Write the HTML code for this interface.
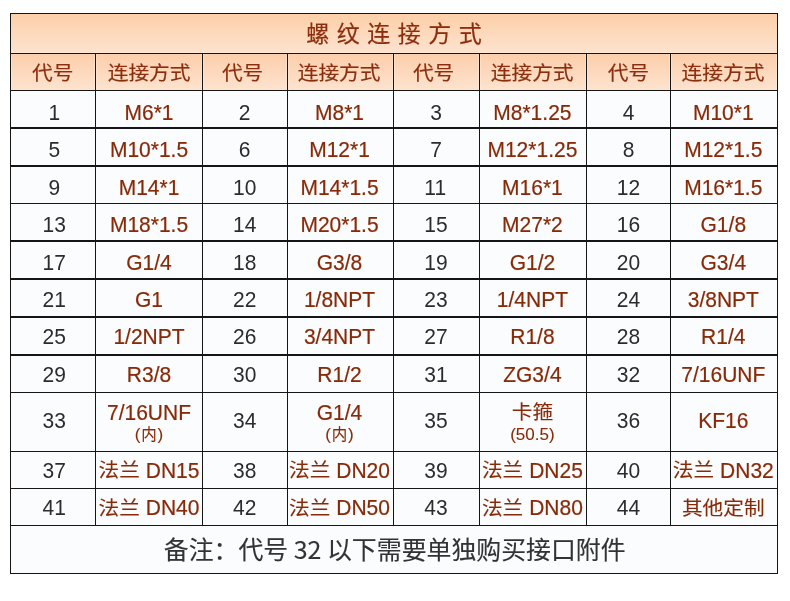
<!DOCTYPE html>
<html><head><meta charset="utf-8"><style>
html,body{margin:0;padding:0;width:790px;height:601px;overflow:hidden;background:#fff}
svg{display:block}
</style></head>
<body><svg width="790" height="601" viewBox="0 0 790 601">
<defs>
<linearGradient id="gt" x1="0" y1="0" x2="0" y2="1"><stop offset="0" stop-color="#fccfa8"/><stop offset="1" stop-color="#fde3cf"/></linearGradient>
<linearGradient id="gh" x1="0" y1="0" x2="0" y2="1"><stop offset="0" stop-color="#fcceab"/><stop offset="1" stop-color="#fde3cf"/></linearGradient>
</defs>
<rect x="10" y="14" width="767" height="39" fill="url(#gt)"/>
<rect x="10" y="54" width="767" height="36" fill="url(#gh)"/>
<rect x="10" y="91" width="767" height="482" fill="#fbfcfe"/>
<g fill="#fff3ea" fill-opacity="0.35" shape-rendering="crispEdges"><rect x="11" y="52" width="766" height="1"/><rect x="94" y="54" width="1" height="36"/><rect x="96" y="54" width="1" height="36"/><rect x="201" y="54" width="1" height="36"/><rect x="203" y="54" width="1" height="36"/><rect x="286" y="54" width="1" height="36"/><rect x="288" y="54" width="1" height="36"/><rect x="392" y="54" width="1" height="36"/><rect x="394" y="54" width="1" height="36"/><rect x="478" y="54" width="1" height="36"/><rect x="480" y="54" width="1" height="36"/><rect x="585" y="54" width="1" height="36"/><rect x="587" y="54" width="1" height="36"/><rect x="669" y="54" width="1" height="36"/><rect x="671" y="54" width="1" height="36"/><rect x="11" y="54" width="1" height="36"/><rect x="776" y="54" width="1" height="36"/></g>
<g fill="#151515" shape-rendering="crispEdges"><rect x="10" y="13" width="768" height="1"/><rect x="10" y="53" width="768" height="1"/><rect x="10" y="90" width="768" height="1"/><rect x="10" y="127" width="768" height="2"/><rect x="10" y="165" width="768" height="2"/><rect x="10" y="203" width="768" height="1"/><rect x="10" y="240" width="768" height="2"/><rect x="10" y="278" width="768" height="2"/><rect x="10" y="316" width="768" height="2"/><rect x="10" y="354" width="768" height="2"/><rect x="10" y="392" width="768" height="1"/><rect x="10" y="451" width="768" height="1"/><rect x="10" y="488" width="768" height="1"/><rect x="10" y="525" width="768" height="1"/><rect x="10" y="573" width="768" height="1"/><rect x="10" y="13" width="1" height="561"/><rect x="95" y="53" width="1" height="473"/><rect x="202" y="53" width="1" height="473"/><rect x="287" y="53" width="1" height="473"/><rect x="393" y="53" width="1" height="473"/><rect x="479" y="53" width="1" height="473"/><rect x="586" y="53" width="1" height="473"/><rect x="670" y="53" width="1" height="473"/><rect x="777" y="13" width="1" height="561"/></g>
<text x="397.75" y="42" text-anchor="middle" font-family="'Liberation Sans','Noto Sans CJK SC',sans-serif" font-size="23" letter-spacing="7.5" fill="#8c2e0e" stroke="#8c2e0e" stroke-width="0.2">螺纹连接方式</text>
<text transform="translate(31.95,79.7) scale(1,0.935)" font-family="'Liberation Sans','Noto Sans CJK SC',sans-serif" font-size="20.7" fill="#8c2e0e" stroke="#8c2e0e" stroke-width="0.2">代号</text>
<text transform="translate(107.75,79.7) scale(1,0.935)" font-family="'Liberation Sans','Noto Sans CJK SC',sans-serif" font-size="20.7" fill="#8c2e0e" stroke="#8c2e0e" stroke-width="0.2">连接方式</text>
<text transform="translate(221.9,79.7) scale(1,0.935)" font-family="'Liberation Sans','Noto Sans CJK SC',sans-serif" font-size="20.7" fill="#8c2e0e" stroke="#8c2e0e" stroke-width="0.2">代号</text>
<text transform="translate(297.7,79.7) scale(1,0.935)" font-family="'Liberation Sans','Noto Sans CJK SC',sans-serif" font-size="20.7" fill="#8c2e0e" stroke="#8c2e0e" stroke-width="0.2">连接方式</text>
<text transform="translate(412.9,79.7) scale(1,0.935)" font-family="'Liberation Sans','Noto Sans CJK SC',sans-serif" font-size="20.7" fill="#8c2e0e" stroke="#8c2e0e" stroke-width="0.2">代号</text>
<text transform="translate(490.8,79.7) scale(1,0.935)" font-family="'Liberation Sans','Noto Sans CJK SC',sans-serif" font-size="20.7" fill="#8c2e0e" stroke="#8c2e0e" stroke-width="0.2">连接方式</text>
<text transform="translate(607.8,79.7) scale(1,0.935)" font-family="'Liberation Sans','Noto Sans CJK SC',sans-serif" font-size="20.7" fill="#8c2e0e" stroke="#8c2e0e" stroke-width="0.2">代号</text>
<text transform="translate(681.6,79.7) scale(1,0.935)" font-family="'Liberation Sans','Noto Sans CJK SC',sans-serif" font-size="20.7" fill="#8c2e0e" stroke="#8c2e0e" stroke-width="0.2">连接方式</text>
<text transform="translate(48.46,119.5) scale(1,1.055)" font-family="'Liberation Sans',sans-serif" font-size="21" fill="#2c2c2c" xml:space="preserve">1</text>
<text transform="translate(124.49,119.5) scale(1,1.055)" font-family="'Liberation Sans',sans-serif" font-size="21" fill="#882a07" stroke="#882a07" stroke-width="0.2" xml:space="preserve">M6*1</text>
<text transform="translate(238.86,119.5) scale(1,1.055)" font-family="'Liberation Sans',sans-serif" font-size="21" fill="#2c2c2c" xml:space="preserve">2</text>
<text transform="translate(314.99,119.5) scale(1,1.055)" font-family="'Liberation Sans',sans-serif" font-size="21" fill="#882a07" stroke="#882a07" stroke-width="0.2" xml:space="preserve">M8*1</text>
<text transform="translate(430.16,119.5) scale(1,1.055)" font-family="'Liberation Sans',sans-serif" font-size="21" fill="#2c2c2c" xml:space="preserve">3</text>
<text transform="translate(493.29,119.5) scale(1,1.055)" font-family="'Liberation Sans',sans-serif" font-size="21" fill="#882a07" stroke="#882a07" stroke-width="0.2" xml:space="preserve">M8*1.25</text>
<text transform="translate(622.66,119.5) scale(1,1.055)" font-family="'Liberation Sans',sans-serif" font-size="21" fill="#2c2c2c" xml:space="preserve">4</text>
<text transform="translate(692.95,119.5) scale(1,1.055)" font-family="'Liberation Sans',sans-serif" font-size="21" fill="#882a07" stroke="#882a07" stroke-width="0.2" xml:space="preserve">M10*1</text>
<text transform="translate(48.46,157) scale(1,1.055)" font-family="'Liberation Sans',sans-serif" font-size="21" fill="#2c2c2c" xml:space="preserve">5</text>
<text transform="translate(109.89,157) scale(1,1.055)" font-family="'Liberation Sans',sans-serif" font-size="21" fill="#882a07" stroke="#882a07" stroke-width="0.2" xml:space="preserve">M10*1.5</text>
<text transform="translate(238.86,157) scale(1,1.055)" font-family="'Liberation Sans',sans-serif" font-size="21" fill="#2c2c2c" xml:space="preserve">6</text>
<text transform="translate(309.15,157) scale(1,1.055)" font-family="'Liberation Sans',sans-serif" font-size="21" fill="#882a07" stroke="#882a07" stroke-width="0.2" xml:space="preserve">M12*1</text>
<text transform="translate(430.16,157) scale(1,1.055)" font-family="'Liberation Sans',sans-serif" font-size="21" fill="#2c2c2c" xml:space="preserve">7</text>
<text transform="translate(487.45,157) scale(1,1.055)" font-family="'Liberation Sans',sans-serif" font-size="21" fill="#882a07" stroke="#882a07" stroke-width="0.2" xml:space="preserve">M12*1.25</text>
<text transform="translate(622.66,157) scale(1,1.055)" font-family="'Liberation Sans',sans-serif" font-size="21" fill="#2c2c2c" xml:space="preserve">8</text>
<text transform="translate(684.19,157) scale(1,1.055)" font-family="'Liberation Sans',sans-serif" font-size="21" fill="#882a07" stroke="#882a07" stroke-width="0.2" xml:space="preserve">M12*1.5</text>
<text transform="translate(48.46,194.5) scale(1,1.055)" font-family="'Liberation Sans',sans-serif" font-size="21" fill="#2c2c2c" xml:space="preserve">9</text>
<text transform="translate(118.65,194.5) scale(1,1.055)" font-family="'Liberation Sans',sans-serif" font-size="21" fill="#882a07" stroke="#882a07" stroke-width="0.2" xml:space="preserve">M14*1</text>
<text transform="translate(233.02,194.5) scale(1,1.055)" font-family="'Liberation Sans',sans-serif" font-size="21" fill="#2c2c2c" xml:space="preserve">10</text>
<text transform="translate(300.39,194.5) scale(1,1.055)" font-family="'Liberation Sans',sans-serif" font-size="21" fill="#882a07" stroke="#882a07" stroke-width="0.2" xml:space="preserve">M14*1.5</text>
<text transform="translate(424.32,194.5) scale(1,1.055)" font-family="'Liberation Sans',sans-serif" font-size="21" fill="#2c2c2c" xml:space="preserve">11</text>
<text transform="translate(502.05,194.5) scale(1,1.055)" font-family="'Liberation Sans',sans-serif" font-size="21" fill="#882a07" stroke="#882a07" stroke-width="0.2" xml:space="preserve">M16*1</text>
<text transform="translate(616.82,194.5) scale(1,1.055)" font-family="'Liberation Sans',sans-serif" font-size="21" fill="#2c2c2c" xml:space="preserve">12</text>
<text transform="translate(684.19,194.5) scale(1,1.055)" font-family="'Liberation Sans',sans-serif" font-size="21" fill="#882a07" stroke="#882a07" stroke-width="0.2" xml:space="preserve">M16*1.5</text>
<text transform="translate(42.62,232) scale(1,1.055)" font-family="'Liberation Sans',sans-serif" font-size="21" fill="#2c2c2c" xml:space="preserve">13</text>
<text transform="translate(109.89,232) scale(1,1.055)" font-family="'Liberation Sans',sans-serif" font-size="21" fill="#882a07" stroke="#882a07" stroke-width="0.2" xml:space="preserve">M18*1.5</text>
<text transform="translate(233.02,232) scale(1,1.055)" font-family="'Liberation Sans',sans-serif" font-size="21" fill="#2c2c2c" xml:space="preserve">14</text>
<text transform="translate(300.39,232) scale(1,1.055)" font-family="'Liberation Sans',sans-serif" font-size="21" fill="#882a07" stroke="#882a07" stroke-width="0.2" xml:space="preserve">M20*1.5</text>
<text transform="translate(424.32,232) scale(1,1.055)" font-family="'Liberation Sans',sans-serif" font-size="21" fill="#2c2c2c" xml:space="preserve">15</text>
<text transform="translate(502.05,232) scale(1,1.055)" font-family="'Liberation Sans',sans-serif" font-size="21" fill="#882a07" stroke="#882a07" stroke-width="0.2" xml:space="preserve">M27*2</text>
<text transform="translate(616.82,232) scale(1,1.055)" font-family="'Liberation Sans',sans-serif" font-size="21" fill="#2c2c2c" xml:space="preserve">16</text>
<text transform="translate(700.54,232) scale(1,1.055)" font-family="'Liberation Sans',sans-serif" font-size="21" fill="#882a07" stroke="#882a07" stroke-width="0.2" xml:space="preserve">G1/8</text>
<text transform="translate(42.62,269.5) scale(1,1.055)" font-family="'Liberation Sans',sans-serif" font-size="21" fill="#2c2c2c" xml:space="preserve">17</text>
<text transform="translate(126.24,269.5) scale(1,1.055)" font-family="'Liberation Sans',sans-serif" font-size="21" fill="#882a07" stroke="#882a07" stroke-width="0.2" xml:space="preserve">G1/4</text>
<text transform="translate(233.02,269.5) scale(1,1.055)" font-family="'Liberation Sans',sans-serif" font-size="21" fill="#2c2c2c" xml:space="preserve">18</text>
<text transform="translate(316.74,269.5) scale(1,1.055)" font-family="'Liberation Sans',sans-serif" font-size="21" fill="#882a07" stroke="#882a07" stroke-width="0.2" xml:space="preserve">G3/8</text>
<text transform="translate(424.32,269.5) scale(1,1.055)" font-family="'Liberation Sans',sans-serif" font-size="21" fill="#2c2c2c" xml:space="preserve">19</text>
<text transform="translate(509.64,269.5) scale(1,1.055)" font-family="'Liberation Sans',sans-serif" font-size="21" fill="#882a07" stroke="#882a07" stroke-width="0.2" xml:space="preserve">G1/2</text>
<text transform="translate(616.82,269.5) scale(1,1.055)" font-family="'Liberation Sans',sans-serif" font-size="21" fill="#2c2c2c" xml:space="preserve">20</text>
<text transform="translate(700.54,269.5) scale(1,1.055)" font-family="'Liberation Sans',sans-serif" font-size="21" fill="#882a07" stroke="#882a07" stroke-width="0.2" xml:space="preserve">G3/4</text>
<text transform="translate(42.62,307.2) scale(1,1.055)" font-family="'Liberation Sans',sans-serif" font-size="21" fill="#2c2c2c" xml:space="preserve">21</text>
<text transform="translate(134.99,307.2) scale(1,1.055)" font-family="'Liberation Sans',sans-serif" font-size="21" fill="#882a07" stroke="#882a07" stroke-width="0.2" xml:space="preserve">G1</text>
<text transform="translate(233.02,307.2) scale(1,1.055)" font-family="'Liberation Sans',sans-serif" font-size="21" fill="#2c2c2c" xml:space="preserve">22</text>
<text transform="translate(303.9,307.2) scale(1,1.055)" font-family="'Liberation Sans',sans-serif" font-size="21" fill="#882a07" stroke="#882a07" stroke-width="0.2" xml:space="preserve">1/8NPT</text>
<text transform="translate(424.32,307.2) scale(1,1.055)" font-family="'Liberation Sans',sans-serif" font-size="21" fill="#2c2c2c" xml:space="preserve">23</text>
<text transform="translate(496.8,307.2) scale(1,1.055)" font-family="'Liberation Sans',sans-serif" font-size="21" fill="#882a07" stroke="#882a07" stroke-width="0.2" xml:space="preserve">1/4NPT</text>
<text transform="translate(616.82,307.2) scale(1,1.055)" font-family="'Liberation Sans',sans-serif" font-size="21" fill="#2c2c2c" xml:space="preserve">24</text>
<text transform="translate(687.7,307.2) scale(1,1.055)" font-family="'Liberation Sans',sans-serif" font-size="21" fill="#882a07" stroke="#882a07" stroke-width="0.2" xml:space="preserve">3/8NPT</text>
<text transform="translate(42.62,344.2) scale(1,1.055)" font-family="'Liberation Sans',sans-serif" font-size="21" fill="#2c2c2c" xml:space="preserve">25</text>
<text transform="translate(113.4,344.2) scale(1,1.055)" font-family="'Liberation Sans',sans-serif" font-size="21" fill="#882a07" stroke="#882a07" stroke-width="0.2" xml:space="preserve">1/2NPT</text>
<text transform="translate(233.02,344.2) scale(1,1.055)" font-family="'Liberation Sans',sans-serif" font-size="21" fill="#2c2c2c" xml:space="preserve">26</text>
<text transform="translate(303.9,344.2) scale(1,1.055)" font-family="'Liberation Sans',sans-serif" font-size="21" fill="#882a07" stroke="#882a07" stroke-width="0.2" xml:space="preserve">3/4NPT</text>
<text transform="translate(424.32,344.2) scale(1,1.055)" font-family="'Liberation Sans',sans-serif" font-size="21" fill="#2c2c2c" xml:space="preserve">27</text>
<text transform="translate(510.22,344.2) scale(1,1.055)" font-family="'Liberation Sans',sans-serif" font-size="21" fill="#882a07" stroke="#882a07" stroke-width="0.2" xml:space="preserve">R1/8</text>
<text transform="translate(616.82,344.2) scale(1,1.055)" font-family="'Liberation Sans',sans-serif" font-size="21" fill="#2c2c2c" xml:space="preserve">28</text>
<text transform="translate(701.12,344.2) scale(1,1.055)" font-family="'Liberation Sans',sans-serif" font-size="21" fill="#882a07" stroke="#882a07" stroke-width="0.2" xml:space="preserve">R1/4</text>
<text transform="translate(42.62,382.3) scale(1,1.055)" font-family="'Liberation Sans',sans-serif" font-size="21" fill="#2c2c2c" xml:space="preserve">29</text>
<text transform="translate(126.82,382.3) scale(1,1.055)" font-family="'Liberation Sans',sans-serif" font-size="21" fill="#882a07" stroke="#882a07" stroke-width="0.2" xml:space="preserve">R3/8</text>
<text transform="translate(233.02,382.3) scale(1,1.055)" font-family="'Liberation Sans',sans-serif" font-size="21" fill="#2c2c2c" xml:space="preserve">30</text>
<text transform="translate(317.32,382.3) scale(1,1.055)" font-family="'Liberation Sans',sans-serif" font-size="21" fill="#882a07" stroke="#882a07" stroke-width="0.2" xml:space="preserve">R1/2</text>
<text transform="translate(424.32,382.3) scale(1,1.055)" font-family="'Liberation Sans',sans-serif" font-size="21" fill="#2c2c2c" xml:space="preserve">31</text>
<text transform="translate(503.22,382.3) scale(1,1.055)" font-family="'Liberation Sans',sans-serif" font-size="21" fill="#882a07" stroke="#882a07" stroke-width="0.2" xml:space="preserve">ZG3/4</text>
<text transform="translate(616.82,382.3) scale(1,1.055)" font-family="'Liberation Sans',sans-serif" font-size="21" fill="#2c2c2c" xml:space="preserve">32</text>
<text transform="translate(681.28,382.3) scale(1,1.055)" font-family="'Liberation Sans',sans-serif" font-size="21" fill="#882a07" stroke="#882a07" stroke-width="0.2" xml:space="preserve">7/16UNF</text>
<text transform="translate(42.62,428) scale(1,1.055)" font-family="'Liberation Sans',sans-serif" font-size="21" fill="#2c2c2c" xml:space="preserve">33</text>
<text transform="translate(106.98,419.6) scale(1,1.055)" font-family="'Liberation Sans',sans-serif" font-size="21" fill="#882a07" stroke="#882a07" stroke-width="0.2" xml:space="preserve">7/16UNF</text>
<text transform="translate(134.79,439.5) scale(1,1.0)" font-family="'Liberation Sans',sans-serif" font-size="17" fill="#882a07" stroke="#882a07" stroke-width="0.1" xml:space="preserve">(</text><text transform="translate(141.25,439.5) scale(1,1)" font-family="'Liberation Sans','Noto Sans CJK SC',sans-serif" font-size="15.5" fill="#882a07" stroke="#882a07" stroke-width="0.1">内</text><text transform="translate(157.55,439.5) scale(1,1.0)" font-family="'Liberation Sans',sans-serif" font-size="17" fill="#882a07" stroke="#882a07" stroke-width="0.1" xml:space="preserve">)</text>
<text transform="translate(233.02,428) scale(1,1.055)" font-family="'Liberation Sans',sans-serif" font-size="21" fill="#2c2c2c" xml:space="preserve">34</text>
<text transform="translate(316.74,419.6) scale(1,1.055)" font-family="'Liberation Sans',sans-serif" font-size="21" fill="#882a07" stroke="#882a07" stroke-width="0.2" xml:space="preserve">G1/4</text>
<text transform="translate(325.29,439.5) scale(1,1.0)" font-family="'Liberation Sans',sans-serif" font-size="17" fill="#882a07" stroke="#882a07" stroke-width="0.1" xml:space="preserve">(</text><text transform="translate(331.75,439.5) scale(1,1)" font-family="'Liberation Sans','Noto Sans CJK SC',sans-serif" font-size="15.5" fill="#882a07" stroke="#882a07" stroke-width="0.1">内</text><text transform="translate(348.05,439.5) scale(1,1.0)" font-family="'Liberation Sans',sans-serif" font-size="17" fill="#882a07" stroke="#882a07" stroke-width="0.1" xml:space="preserve">)</text>
<text transform="translate(424.32,428) scale(1,1.055)" font-family="'Liberation Sans',sans-serif" font-size="21" fill="#2c2c2c" xml:space="preserve">35</text>
<text transform="translate(511.7,419) scale(1,0.93)" font-family="'Liberation Sans','Noto Sans CJK SC',sans-serif" font-size="20.7" fill="#882a07" stroke="#882a07" stroke-width="0.1">卡箍</text>
<text transform="translate(510.2,439.5) scale(1,1.0)" font-family="'Liberation Sans',sans-serif" font-size="17" fill="#882a07" stroke="#882a07" stroke-width="0.1" xml:space="preserve">(50.5)</text>
<text transform="translate(616.82,428) scale(1,1.055)" font-family="'Liberation Sans',sans-serif" font-size="21" fill="#2c2c2c" xml:space="preserve">36</text>
<text transform="translate(698.2,428) scale(1,1.055)" font-family="'Liberation Sans',sans-serif" font-size="21" fill="#882a07" stroke="#882a07" stroke-width="0.2" xml:space="preserve">KF16</text>
<text transform="translate(42.62,477.6) scale(1,1.055)" font-family="'Liberation Sans',sans-serif" font-size="21" fill="#2c2c2c" xml:space="preserve">37</text>
<text transform="translate(98.54,477.1) scale(1,0.93)" font-family="'Liberation Sans','Noto Sans CJK SC',sans-serif" font-size="20.7" fill="#882a07" stroke="#882a07" stroke-width="0.1">法兰</text><text transform="translate(139.94,477.6) scale(1,1.055)" font-family="'Liberation Sans',sans-serif" font-size="21" fill="#882a07" stroke="#882a07" stroke-width="0.2" xml:space="preserve"> DN15</text>
<text transform="translate(233.02,477.6) scale(1,1.055)" font-family="'Liberation Sans',sans-serif" font-size="21" fill="#2c2c2c" xml:space="preserve">38</text>
<text transform="translate(289.04,477.1) scale(1,0.93)" font-family="'Liberation Sans','Noto Sans CJK SC',sans-serif" font-size="20.7" fill="#882a07" stroke="#882a07" stroke-width="0.1">法兰</text><text transform="translate(330.44,477.6) scale(1,1.055)" font-family="'Liberation Sans',sans-serif" font-size="21" fill="#882a07" stroke="#882a07" stroke-width="0.2" xml:space="preserve"> DN20</text>
<text transform="translate(424.32,477.6) scale(1,1.055)" font-family="'Liberation Sans',sans-serif" font-size="21" fill="#2c2c2c" xml:space="preserve">39</text>
<text transform="translate(481.94,477.1) scale(1,0.93)" font-family="'Liberation Sans','Noto Sans CJK SC',sans-serif" font-size="20.7" fill="#882a07" stroke="#882a07" stroke-width="0.1">法兰</text><text transform="translate(523.34,477.6) scale(1,1.055)" font-family="'Liberation Sans',sans-serif" font-size="21" fill="#882a07" stroke="#882a07" stroke-width="0.2" xml:space="preserve"> DN25</text>
<text transform="translate(616.82,477.6) scale(1,1.055)" font-family="'Liberation Sans',sans-serif" font-size="21" fill="#2c2c2c" xml:space="preserve">40</text>
<text transform="translate(672.84,477.1) scale(1,0.93)" font-family="'Liberation Sans','Noto Sans CJK SC',sans-serif" font-size="20.7" fill="#882a07" stroke="#882a07" stroke-width="0.1">法兰</text><text transform="translate(714.24,477.6) scale(1,1.055)" font-family="'Liberation Sans',sans-serif" font-size="21" fill="#882a07" stroke="#882a07" stroke-width="0.2" xml:space="preserve"> DN32</text>
<text transform="translate(42.62,515.1) scale(1,1.055)" font-family="'Liberation Sans',sans-serif" font-size="21" fill="#2c2c2c" xml:space="preserve">41</text>
<text transform="translate(98.54,514.6) scale(1,0.93)" font-family="'Liberation Sans','Noto Sans CJK SC',sans-serif" font-size="20.7" fill="#882a07" stroke="#882a07" stroke-width="0.1">法兰</text><text transform="translate(139.94,515.1) scale(1,1.055)" font-family="'Liberation Sans',sans-serif" font-size="21" fill="#882a07" stroke="#882a07" stroke-width="0.2" xml:space="preserve"> DN40</text>
<text transform="translate(233.02,515.1) scale(1,1.055)" font-family="'Liberation Sans',sans-serif" font-size="21" fill="#2c2c2c" xml:space="preserve">42</text>
<text transform="translate(289.04,514.6) scale(1,0.93)" font-family="'Liberation Sans','Noto Sans CJK SC',sans-serif" font-size="20.7" fill="#882a07" stroke="#882a07" stroke-width="0.1">法兰</text><text transform="translate(330.44,515.1) scale(1,1.055)" font-family="'Liberation Sans',sans-serif" font-size="21" fill="#882a07" stroke="#882a07" stroke-width="0.2" xml:space="preserve"> DN50</text>
<text transform="translate(424.32,515.1) scale(1,1.055)" font-family="'Liberation Sans',sans-serif" font-size="21" fill="#2c2c2c" xml:space="preserve">43</text>
<text transform="translate(481.94,514.6) scale(1,0.93)" font-family="'Liberation Sans','Noto Sans CJK SC',sans-serif" font-size="20.7" fill="#882a07" stroke="#882a07" stroke-width="0.1">法兰</text><text transform="translate(523.34,515.1) scale(1,1.055)" font-family="'Liberation Sans',sans-serif" font-size="21" fill="#882a07" stroke="#882a07" stroke-width="0.2" xml:space="preserve"> DN80</text>
<text transform="translate(616.82,515.1) scale(1,1.055)" font-family="'Liberation Sans',sans-serif" font-size="21" fill="#2c2c2c" xml:space="preserve">44</text>
<text transform="translate(681.9,514.6) scale(1,0.93)" font-family="'Liberation Sans','Noto Sans CJK SC',sans-serif" font-size="20.7" fill="#882a07" stroke="#882a07" stroke-width="0.1">其他定制</text>
<text x="394.7" y="559" text-anchor="middle" font-family="'Noto Sans CJK SC',sans-serif" font-size="24.9" font-weight="400" fill="#333" stroke="#333" stroke-width="0.12">备注：代号 32 以下需要单独购买接口附件</text>
</svg></body></html>
